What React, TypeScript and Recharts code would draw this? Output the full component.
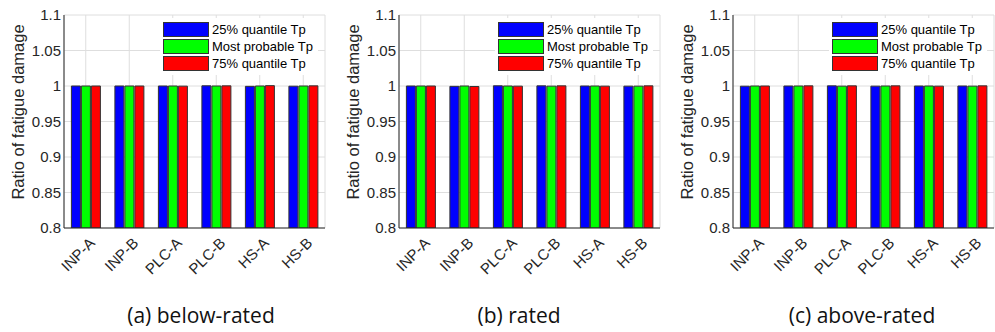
import { BarChart, Bar, XAxis, YAxis, CartesianGrid, Label } from "recharts";

const categories = ["INP-A", "INP-B", "PLC-A", "PLC-B", "HS-A", "HS-B"];
const seriesNames = ["25% quantile Tp", "Most probable Tp", "75% quantile Tp"];
const seriesColors = ["#0000ff", "#00ff00", "#ff0000"];

const belowRatedQ25 = [1.0, 1.0, 1.0, 1.0003, 0.9995, 0.9997];
const belowRatedMost = [1.0, 1.0, 1.0, 1.0, 1.0, 1.0];
const belowRatedQ75 = [1.0, 1.0, 0.9998, 1.0002, 1.0005, 1.0002];

const ratedQ25 = [1.0, 0.9995, 1.0003, 1.0002, 1.0, 0.9998];
const ratedMost = [1.0, 1.0, 1.0, 0.9998, 1.0, 0.9998];
const ratedQ75 = [1.0, 0.9993, 0.9998, 1.0002, 0.9998, 1.0002];

const aboveRatedQ25 = [0.9997, 1.0, 1.0002, 0.9998, 1.0, 1.0];
const aboveRatedMost = [1.0, 1.0, 0.9998, 1.0, 1.0, 0.9998];
const aboveRatedQ75 = [1.0, 1.0002, 1.0002, 1.0002, 0.9998, 1.0002];

const yTicks = [0.8, 0.85, 0.9, 0.95, 1, 1.05, 1.1];
const yDomain = [0.8, 1.1];
const yTitle = "Ratio of fatigue damage";

const captions = ["(a) below-rated", "(b) rated", "(c) above-rated"];

const AXIS_COLOR = "#262626";
const TICK_FONT = "'Liberation Sans', Arial, sans-serif";

const buildRows = (q25: number[], most: number[], q75: number[]) =>
  categories.map((name, i) => ({ name, q25: q25[i], most: most[i], q75: q75[i] }));

const panels = [
  { plotLeft: 64, caption: captions[0], captionX: 201, rows: buildRows(belowRatedQ25, belowRatedMost, belowRatedQ75) },
  { plotLeft: 399, caption: captions[1], captionX: 519, rows: buildRows(ratedQ25, ratedMost, ratedQ75) },
  { plotLeft: 733, caption: captions[2], captionX: 862, rows: buildRows(aboveRatedQ25, aboveRatedMost, aboveRatedQ75) },
];

const seriesKeys = ["q25", "most", "q75"];

// rotated category labels, anchored at their end just right of the tick
const SlantTick = (props: any) => {
  const { x, y, payload } = props;
  return (
    <text
      x={x + 10}
      y={y + 16}
      transform={`rotate(-45, ${x + 10}, ${y + 16})`}
      textAnchor="end"
      fontSize={15}
      fontFamily={TICK_FONT}
      fill={AXIS_COLOR}
    >
      {payload.value}
    </text>
  );
};

const YTitle = () => (
  <text
    x={18}
    y={112}
    transform="rotate(-90, 18, 112)"
    textAnchor="middle"
    dominantBaseline="central"
    fontSize={16.5}
    fontFamily={TICK_FONT}
    fill={AXIS_COLOR}
  >
    {yTitle}
  </text>
);

const LegendBox = () => (
  <div
    style={{
      position: "absolute",
      left: 160,
      top: 18,
      width: 158,
      height: 57,
      background: "#fff",
      fontFamily: TICK_FONT,
      fontSize: 13,
      color: "#000",
    }}
  >
    {seriesNames.map((name, i) => (
      <div
        key={name}
        style={{ position: "absolute", left: 3, top: 4 + i * 17, height: 15, display: "flex", alignItems: "center" }}
      >
        <div
          style={{
            width: 44,
            height: 13,
            background: seriesColors[i],
            border: "1px solid #333",
            marginRight: 3,
          }}
        />
        <span style={{ whiteSpace: "nowrap" }}>{name}</span>
      </div>
    ))}
  </div>
);

const Panel = ({ plotLeft, rows }: { plotLeft: number; rows: any[] }) => (
  <div style={{ position: "absolute", left: plotLeft - 64, top: 0, width: 329, height: 332 }}>
    <BarChart
      width={329}
      height={332}
      data={rows}
      margin={{ top: 15, right: 4, left: 0, bottom: 0 }}
      barCategoryGap="17%"
      barGap={1}
    >
      <CartesianGrid stroke="#dedede" strokeWidth={1} />
      <XAxis
        dataKey="name"
        height={104}
        axisLine={{ stroke: AXIS_COLOR }}
        tickLine={false}
        tickSize={0}
        tickMargin={0}
        interval={0}
        tick={<SlantTick />}
      />
      <XAxis xAxisId="top" orientation="top" dataKey="name" height={0} tick={false} tickLine={false} axisLine={{ stroke: AXIS_COLOR }} />
      <YAxis
        type="number"
        domain={yDomain}
        ticks={yTicks}
        allowDataOverflow
        width={64}
        axisLine={{ stroke: AXIS_COLOR }}
        tickLine={false}
        tickSize={3}
        tickMargin={0}
        tick={{ fontSize: 15, fontFamily: TICK_FONT, fill: AXIS_COLOR }}
      >
        <Label content={<YTitle />} />
      </YAxis>
      <YAxis
        yAxisId="right"
        orientation="right"
        type="number"
        domain={yDomain}
        allowDataOverflow
        width={0}
        tick={false}
        tickLine={false}
        axisLine={{ stroke: AXIS_COLOR }}
      />
      {seriesKeys.map((key, i) => (
        <Bar
          key={key}
          dataKey={key}
          name={seriesNames[i]}
          fill={seriesColors[i]}
          stroke="#333"
          strokeWidth={1}
          isAnimationActive={false}
        />
      ))}
    </BarChart>
    <LegendBox />
  </div>
);

export default function App() {
  return (
    <div style={{ position: "absolute", left: 0, top: 0, width: 995, height: 332, overflow: "hidden", background: "#fff" }}>
      {panels.map((p) => (
        <Panel key={p.caption} plotLeft={p.plotLeft} rows={p.rows} />
      ))}
      <svg width={995} height={332} style={{ position: "absolute", left: 0, top: 0, pointerEvents: "none" }}>
        {panels.map((p) => (
          <text
            key={p.caption}
            x={p.captionX}
            y={323}
            textAnchor="middle"
            fontSize={21}
            fontFamily="'Open Sans', 'Noto Sans', sans-serif"
            fill="#111"
          >
            {p.caption}
          </text>
        ))}
      </svg>
    </div>
  );
}
